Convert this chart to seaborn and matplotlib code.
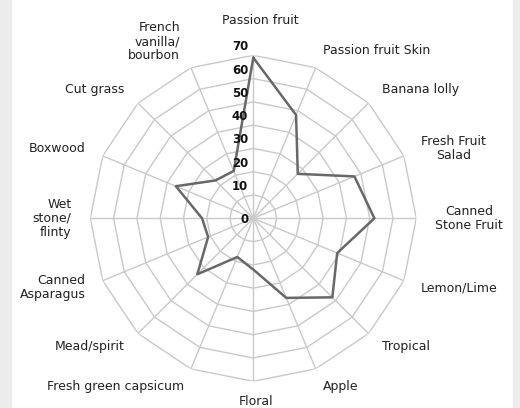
import numpy as np
import matplotlib
matplotlib.use("Agg")
import matplotlib.pyplot as plt
import seaborn as sns
import pandas as pd
from matplotlib.patches import Rectangle
from matplotlib.transforms import offset_copy

categories = ["Passion fruit", "Passion fruit Skin", "Banana lolly", "Fresh Fruit\nSalad",
              "Canned\nStone Fruit", "Lemon/Lime", "Tropical", "Apple", "Floral",
              "Fresh green capsicum", "Mead/spirit", "Canned\nAsparagus", "Wet\nstone/\nflinty",
              "Boxwood", "Cut grass", "French\nvanilla/\nbourbon"]
values = [69, 48, 27, 47, 52, 39, 48, 37, 22, 18, 34, 21, 22, 36, 23, 22]
ticks = [0, 10, 20, 30, 40, 50, 60, 70]

sns.set_style("white")
plt.rcParams['font.family'] = ['DejaVu Sans']

W, H = 520, 408
fig = plt.figure(figsize=(W / 100, H / 100), dpi=100)
fig.patch.set_facecolor("white")
fig.add_artist(Rectangle((0, 0), 11 / W, 1, transform=fig.transFigure, color="#ececec", zorder=0))
fig.add_artist(Rectangle((513 / W, 0), 7 / W, 1, transform=fig.transFigure, color="#ececec", zorder=0))

cx, cy, R = 253.3, 408 - 218.3, 163
ax = fig.add_axes([(cx - R) / W, (cy - R) / H, 2 * R / W, 2 * R / H], projection="polar")
ax.set_theta_zero_location("N")
ax.set_theta_direction(-1)
ax.set_ylim(0, ticks[-1])
ax.grid(False)
ax.spines["polar"].set_visible(False)
ax.set_xticks([])
ax.set_yticks([])
ax.patch.set_alpha(0)

n = len(categories)
theta = np.linspace(0, 2 * np.pi, n, endpoint=False)
theta_c = np.append(theta, theta[0])

grid_col = "#c9c9c9"
for v in ticks[1:]:
    ax.plot(theta_c, [v] * (n + 1), color=grid_col, lw=1.0, zorder=1)
for t in theta:
    ax.plot([t, t], [0, ticks[-1]], color=grid_col, lw=1.0, zorder=1)

df = pd.DataFrame({"theta": theta_c, "value": values + [values[0]]})
sns.lineplot(data=df, x="theta", y="value", ax=ax, sort=False, estimator=None,
             color="#686868", lw=1.8, zorder=3)
ax.set_xlabel("")
ax.set_ylabel("")

for v in ticks:
    if v == 0:
        tr = offset_copy(ax.transData, fig=fig, x=-5, y=-1, units="dots")
        ax.text(0, v, str(v), transform=tr, ha="right", va="center", fontsize=8.5,
                fontweight="bold", color="#111111", zorder=5)
    else:
        tr = offset_copy(ax.transData, fig=fig, x=-5, y=2, units="dots")
        ax.text(0, v, str(v), transform=tr, ha="right", va="bottom", fontsize=8.5,
                fontweight="bold", color="#111111", zorder=5)

for t, lab in zip(theta, categories):
    deg = np.degrees(t)
    if deg == 0:
        ha, r, dx, ma = "center", 85, 7, "center"
    elif deg == 180:
        ha, r, dx, ma = "center", 78.5, 3, "center"
    elif deg < 180:
        ha, r, dx, ma = "left", 78, 0, "center"
    else:
        ha, r, dx, ma = "right", 78, 0, "right"
    if lab.count("\n") == 2 and deg > 300:
        r = 82
    tr = offset_copy(ax.transData, fig=fig, x=dx, y=0, units="dots")
    ax.text(t, r, lab, transform=tr, ha=ha, va="center", multialignment=ma, fontsize=9,
            color="#222222", linespacing=1.1)

fig.savefig("out.png", dpi=100)
